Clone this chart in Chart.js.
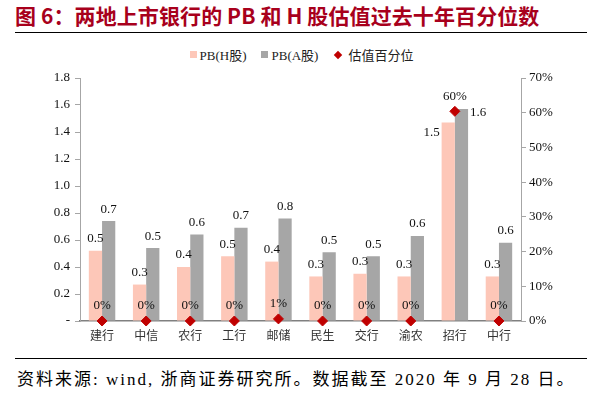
<!DOCTYPE html>
<html>
<head>
<meta charset="utf-8">
<script src="https://cdn.jsdelivr.net/npm/chart.js@4.4.1/dist/chart.umd.min.js"></script>
<style>
  body { margin: 0; width: 603px; height: 396px; background: #fff; position: relative; overflow: hidden; }
  #title { position: absolute; left: 15px; top: 0px; font: bold 21px "Noto Sans CJK SC", sans-serif; color: #a8001c; white-space: nowrap; letter-spacing: 0.1px; }
  .rule { position: absolute; left: 15px; width: 572px; height: 0; border-top: 1.5px solid #000; }
  #legend { position: absolute; top: 45px; left: 0; width: 603px; display: flex; justify-content: center; gap: 15px; font: 13px "Liberation Serif", "Noto Sans CJK SC", serif; color: #222; box-sizing: border-box; }
  #legend .item { display: flex; align-items: center; gap: 3px; white-space: nowrap; }
  #legend .sw { width: 7px; height: 7px; display: inline-block; }
  #legend .dia { width: 6px; height: 6px; transform: rotate(45deg); display: inline-block; margin: 0 4px 0 2px; }
  #wrap { position: absolute; left: 0; top: 60px; width: 603px; height: 290px; }
  #source { position: absolute; left: 17px; top: 365px; font: 17px "Liberation Serif", "Noto Sans CJK SC", serif; color: #000; white-space: nowrap; letter-spacing: 2px; }
</style>
</head>
<body>
<div id="title">图 6：两地上市银行的 PB 和 H 股估值过去十年百分位数</div>
<div class="rule" style="top:32px"></div>
<div id="legend"></div>
<div id="wrap"><canvas id="chart"></canvas></div>
<div class="rule" style="top:358px"></div>
<div id="source">资料来源: wind, 浙商证券研究所。数据截至 2020 年 9 月 28 日。</div>

<script>
// ── Data ─────────────────────────────────────────────
const banks = ['建行', '中信', '农行', '工行', '邮储', '民生', '交行', '渝农', '招行', '中行'];
const pbH = [0.52, 0.27, 0.40, 0.48, 0.44, 0.33, 0.35, 0.33, 1.47, 0.33];
const pbA = [0.74, 0.54, 0.64, 0.69, 0.76, 0.51, 0.48, 0.63, 1.57, 0.58];
const percentile = [0, 0, 0, 0, 0.6, 0, 0, 0, 60.4, 0];

const COLORS = {
  h: '#fdc7b8',
  a: '#a6a6a6',
  dot: '#c00000',
  axis: '#a6a6a6',
};

const SERIF = '"Liberation Serif", "Noto Sans CJK SC", serif';

// ── Legend (html) ────────────────────────────────────
const legendItems = [
  { label: 'PB(H股)', color: COLORS.h, cls: 'sw' },
  { label: 'PB(A股)', color: COLORS.a, cls: 'sw' },
  { label: '估值百分位', color: COLORS.dot, cls: 'dia' },
];
document.getElementById('legend').innerHTML = legendItems.map(it =>
  `<span class="item"><span class="${it.cls}" style="background:${it.color}"></span><span>${it.label}</span></span>`
).join('');

// ── Value labels ─────────────────────────────────────
const valueLabels = {
  id: 'valueLabels',
  afterDatasetsDraw(chart) {
    const ctx = chart.ctx;
    ctx.save();
    ctx.font = '13px ' + SERIF;
    ctx.fillStyle = '#111';
    ctx.textAlign = 'center';
    ctx.textBaseline = 'middle';
    chart.data.datasets.forEach((ds, di) => {
      const meta = chart.getDatasetMeta(di);
      meta.data.forEach((el, i) => {
        const v = ds.data[i];
        if (ds.type === 'line') {
          ctx.fillText(Math.round(v) + '%', el.x, el.y - 15);
          return;
        }
        const txt = v.toFixed(1);
        if (v > 1.2) {
          // tall bars: put label beside the bar
          if (di === 0) ctx.fillText(txt, el.x - el.width / 2 - 10, el.y + 10);
          else ctx.fillText(txt, el.x + el.width / 2 + 10, el.y + 4);
        } else {
          ctx.fillText(txt, el.x, el.y - 12);
        }
      });
    });
    ctx.restore();
  }
};

new Chart(document.getElementById('chart'), {
  type: 'bar',
  data: {
    labels: banks,
    datasets: [
      {
        label: 'PB(H股)', data: pbH,
        backgroundColor: COLORS.h, borderWidth: 0,
        barPercentage: 1, categoryPercentage: 0.6,
        yAxisID: 'y', order: 2,
      },
      {
        label: 'PB(A股)', data: pbA,
        backgroundColor: COLORS.a, borderWidth: 0,
        barPercentage: 1, categoryPercentage: 0.6,
        yAxisID: 'y', order: 2,
      },
      {
        type: 'line', label: '估值百分位', data: percentile,
        showLine: false, pointStyle: 'rectRot',
        pointRadius: 5, pointBackgroundColor: COLORS.dot, pointBorderColor: COLORS.dot,
        yAxisID: 'y1', order: 0, clip: false,
      }
    ]
  },
  options: {
    responsive: true, maintainAspectRatio: false, animation: false,
    layout: { padding: { top: 18, left: 0, right: 0, bottom: 0 } },
    plugins: { legend: { display: false }, tooltip: { enabled: false } },
    scales: {
      x: {
        grid: { drawOnChartArea: false, drawTicks: false },
        border: { color: '#808080', width: 1.5 },
        ticks: { color: '#333', font: { family: '"Noto Sans CJK SC"', size: 12 }, padding: 7 },
        afterFit: s => { s.height = 29; },
      },
      y: {
        position: 'left', min: 0, max: 1.8,
        grid: { drawOnChartArea: false, tickLength: 5, color: COLORS.axis },
        border: { color: COLORS.axis },
        ticks: {
          stepSize: 0.2, color: '#111', padding: 5,
          font: { family: SERIF, size: 13 },
          callback: v => v === 0 ? '-' : v.toFixed(1),
        },
        afterFit: s => { s.width = 80; },
      },
      y1: {
        position: 'right', min: 0, max: 70,
        grid: { drawOnChartArea: false, tickLength: 5, color: COLORS.axis },
        border: { color: COLORS.axis },
        ticks: {
          stepSize: 10, color: '#111', padding: 3,
          font: { family: SERIF, size: 13 },
          callback: v => v + '%',
        },
        afterFit: s => { s.width = 82; },
      }
    }
  },
  plugins: [valueLabels]
});
</script>
</body>
</html>
